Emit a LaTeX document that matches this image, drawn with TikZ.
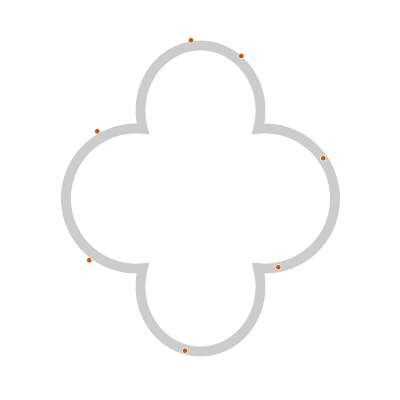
\documentclass[tikz,border=0pt]{standalone}
\usepackage{tikz}
\usetikzlibrary{calc}
\definecolor{qgray}{HTML}{CCCCCC}
\definecolor{qorange}{HTML}{CC5500}
\tikzset{
  lobe/.style={draw=qgray, line width=7pt, line join=miter},
  odot/.style={circle, fill=qorange, draw=white, line width=0.4pt,
               inner sep=0pt, minimum size=0.14cm},
}

\begin{document}
\begin{tikzpicture}[x=0.025cm, y=0.025cm]
  \useasboundingbox (0,0) rectangle (400,400);

  % quatrefoil outline: two oval lobes (top, bottom), two round lobes (sides)
  \begin{scope}[shift={(200.5,201.5)}]
    \draw[lobe] (57.56,69.65)
      arc[start angle=-16.4, end angle=196.4, x radius=60, y radius=65]
      arc[start angle=84.27, end angle=275.73, radius=70]
      arc[start angle=163.6, end angle=376.4, x radius=60, y radius=65]
      arc[start angle=-95.73, end angle=95.73, radius=70] -- cycle;
  \end{scope}

  % points on the curve
  \node[odot] (p1) at (191,359.7) {};
  \node[odot] (p2) at (241.3,344) {};
  \node[odot] (p3) at (97.3,268.7) {};
  \node[odot] (p4) at (323.3,241.7) {};
  \node[odot] (p5) at (89.3,139.7) {};
  \node[odot] (p6) at (278.3,132.7) {};
  \node[odot] (p7) at (185,49.3) {};

\end{tikzpicture}
\end{document}
